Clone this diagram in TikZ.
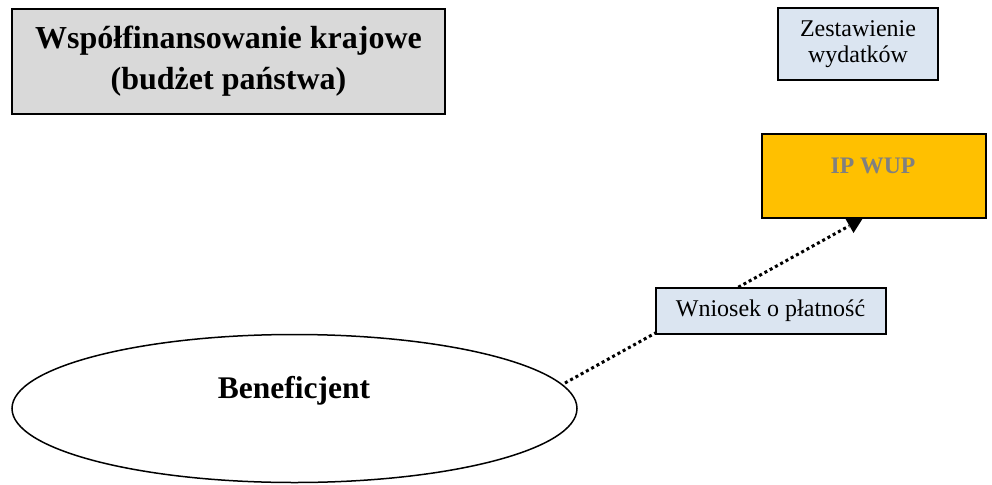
\documentclass[tikz,border=0pt]{standalone}
\usepackage{fontspec}
\setmainfont{Liberation Serif}
\usetikzlibrary{shapes.geometric}
\definecolor{boxgray}{HTML}{D9D9D9}
\definecolor{boxblue}{HTML}{DBE5F1}
\definecolor{boxorange}{HTML}{FFC000}
\definecolor{txtgray}{HTML}{808080}
\tikzset{
  bigbox/.style={draw=black, line width=2pt, fill=boxgray, inner sep=0pt, outer sep=0pt,
    align=center, font=\fontsize{32}{41}\selectfont\bfseries},
  bluebox/.style={draw=black, line width=2pt, fill=boxblue, inner sep=0pt, outer sep=0pt,
    align=center, font=\fontsize{24}{26}\selectfont},
  ipbox/.style={draw=black, line width=2pt, fill=boxorange, inner sep=0pt, outer sep=0pt,
    minimum width=224pt, minimum height=84pt},
  iptext/.style={text=txtgray, font=\fontsize{23.7}{26}\selectfont\bfseries, inner sep=0pt},
  benefell/.style={ellipse, draw=black, line width=1.5pt, inner sep=0pt, outer sep=0pt,
    minimum width=565pt, minimum height=148pt},
  beneftext/.style={font=\fontsize{31.5}{36}\selectfont\bfseries, inner sep=0pt},
  dotline/.style={line width=3pt, dash pattern=on 3pt off 3pt}
}
\begin{document}
\begin{tikzpicture}[x=1pt,y=-1pt]
\useasboundingbox (0,0) rectangle (992,484);
% ellipse
\node[benefell] (benef) at (294.5,408.5) {};
\node[beneftext] (beneftxt) at (294,391) {Beneficjent};
% connector
\coordinate (s) at (565,383);
\coordinate (e) at (849,226);
\draw[dotline] (s) -- (e);
% IP box
\node[ipbox] (ip) at (874,176) {};
\node[iptext] (iptxt) at (873,166) {IP WUP};
\fill[black] (845,218) -- (863,218) -- (853.5,233) -- cycle;
% Wniosek box
\node[bluebox, minimum width=230pt, minimum height=46pt] (wn) at (770.5,310.5) {Wniosek o płatność};
% Zestawienie
\node[bluebox, minimum width=160pt, minimum height=72pt] (zw) at (858,44) {Zestawienie\\wydatków};
% title
\node[bigbox, minimum width=433pt, minimum height=105pt] (title) at (228.5,61.5) {Współfinansowanie krajowe\\(budżet państwa)};
\end{tikzpicture}
\end{document}
